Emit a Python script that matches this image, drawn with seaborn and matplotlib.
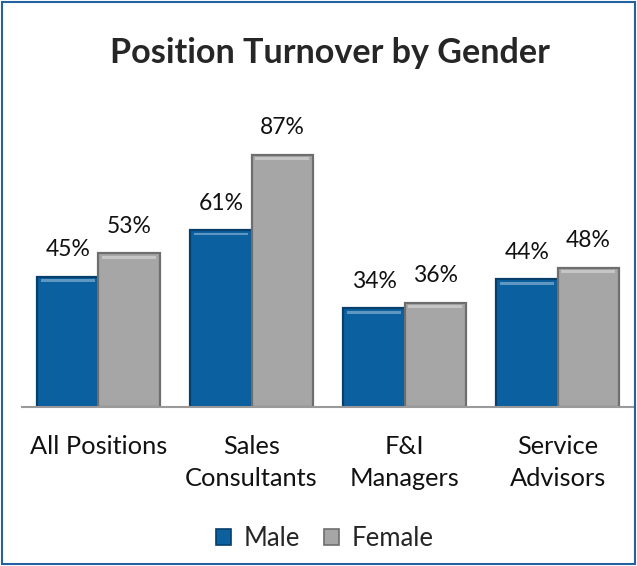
import pandas as pd
import seaborn as sns
import matplotlib.pyplot as plt
from matplotlib.patches import Rectangle

# datos del grafico
positions = ['All Positions', 'Sales\nConsultants', 'F&I\nManagers', 'Service\nAdvisors']
male = [45, 61, 34, 44]
female = [53, 87, 36, 48]
genders = ['Male', 'Female']

df = pd.DataFrame({
    'position': positions * 2,
    'value': male + female,
    'gender': ['Male'] * len(positions) + ['Female'] * len(positions),
})

sns.set_style('white')
plt.rcParams['font.family'] = ['Lato', 'DejaVu Sans']

colors = {'Male': '#0B609F', 'Female': '#A6A6A6'}
edges = {'Male': '#063F6B', 'Female': '#6E6E6E'}

fig = plt.figure(figsize=(6.37, 5.66), dpi=100)
ax = fig.add_axes([0.0345, 0.281, 0.961, 0.512])

sns.barplot(data=df, x='position', y='value', hue='gender', order=positions,
            hue_order=genders, palette=colors, width=0.8, saturation=1,
            legend=False, ax=ax)

# borde oscuro y brillo para simular el bisel
for cont, g in zip(ax.containers, genders):
    for bar in cont:
        bar.set_edgecolor(edges[g])
        bar.set_linewidth(1.6)
        x = bar.get_x()
        w, h = bar.get_width(), bar.get_height()
        ax.add_patch(Rectangle((x + w * 0.06, h - 1.8), w * 0.88, 0.9,
                               facecolor='white', alpha=0.35, lw=0, zorder=3))
    ax.bar_label(cont, fmt='%.0f%%', padding=12, fontsize=16.5, color='#111111')

ax.set_ylim(0, 100)
ax.set_xlim(-0.5, 3.5)
ax.set_xlabel('')
ax.set_ylabel('')
ax.set_yticks([])
ax.tick_params(axis='x', length=0, pad=20, labelsize=18.3, colors='#111111')
for lbl in ax.get_xticklabels():
    lbl.set_linespacing(1.5)
sns.despine(ax=ax, left=True)
ax.spines['bottom'].set_color('#9A9A9A')
ax.spines['bottom'].set_linewidth(1.5)

fig.suptitle('Position Turnover by Gender', x=0.518, y=0.935, fontsize=24.6, fontweight='bold')

handles = [Rectangle((0, 0), 1, 1, facecolor=colors[g], edgecolor=edges[g], lw=1.2) for g in genders]
fig.legend(handles, genders, loc='center', bbox_to_anchor=(0.51, 0.048), ncol=2,
           frameon=False, fontsize=18.5, handlelength=0.6, handleheight=0.6,
           handletextpad=0.5, columnspacing=0.9)

# marco azul de la figura
fig.patches.append(Rectangle((0.003, 0.003), 0.994, 0.994, transform=fig.transFigure,
                             fill=False, edgecolor='#2361A0', linewidth=1.5))

fig.savefig('out.png', dpi=100)
